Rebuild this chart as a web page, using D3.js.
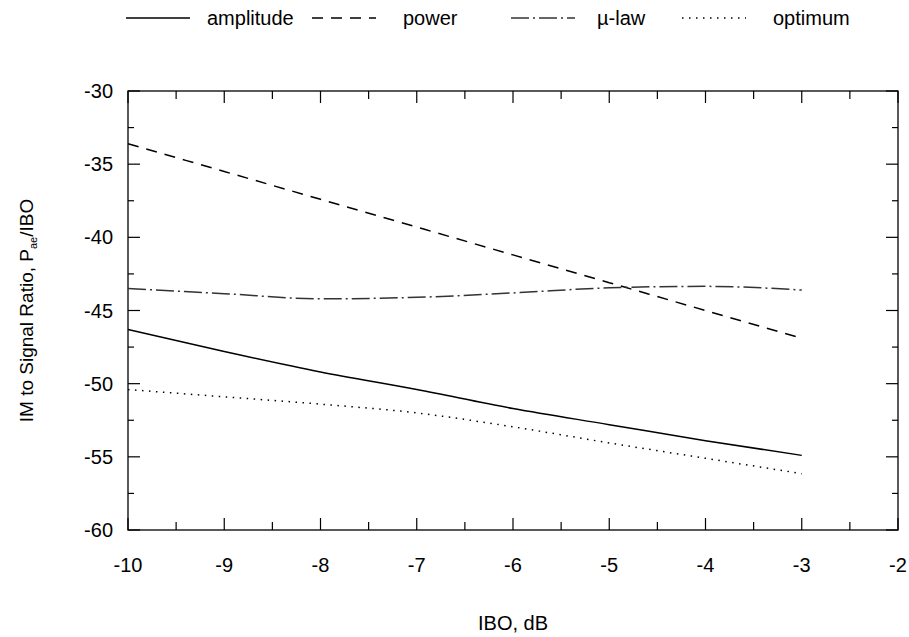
<!DOCTYPE html>
<html>
<head>
<meta charset="utf-8">
<script src="https://cdn.jsdelivr.net/npm/d3@7"></script>
<style>
  body { margin: 0; background: #fff; }
  text { font-family: "Liberation Sans", Arial, sans-serif; fill: #000; }
</style>
</head>
<body>
<svg id="chart" width="909" height="637"></svg>
<script>
// IBO values (dB)
const ibo = [-10, -9, -8, -7, -6, -5, -4, -3];

// IM to signal ratio for each scheme
const amplitude = [-46.3, -47.8, -49.2, -50.4, -51.7, -52.8, -53.9, -54.9];
const power = [-33.6, -35.5, -37.4, -39.3, -41.2, -43.1, -45.0, -46.9];
const muLaw = [-43.5, -43.85, -44.2, -44.1, -43.8, -43.45, -43.35, -43.6];
const optimum = [-50.4, -50.9, -51.4, -52.0, -52.95, -54.05, -55.1, -56.15];

const xTicks = [-10, -9, -8, -7, -6, -5, -4, -3, -2];
const yTicks = [-30, -35, -40, -45, -50, -55, -60];

const series = [
    { name: "amplitude", values: amplitude, dash: null, color: "#000" },
    { name: "power", values: power, dash: "11,8", color: "#000" },
    { name: "\u00b5-law", values: muLaw, dash: "18,4,2,4", color: "#333" },
    { name: "optimum", values: optimum, dash: "1.5,5.5", color: "#000" }
];

const margin = { top: 91, right: 11, bottom: 107, left: 128 };
const width = 909 - margin.left - margin.right,
      height = 637 - margin.top - margin.bottom;

const svg = d3.select("#chart");
const g = svg.append("g").attr("transform", `translate(${margin.left},${margin.top})`);

const x = d3.scaleLinear().domain([-10, -2]).range([0, width]);
const y = d3.scaleLinear().domain([-60, -30]).range([height, 0]);

// frame
g.append("rect")
    .attr("width", width)
    .attr("height", height)
    .attr("fill", "none")
    .attr("stroke", "#000")
    .attr("stroke-width", 1.3);

// ticks on all four sides, pointing in
const xMinor = d3.range(-9.5, -2, 1);
const yMinor = d3.range(-57.5, -30, 5);

function tickLines(vals, len, horizontal) {
    vals.forEach(v => {
        if (horizontal) {
            g.append("line").attr("x1", x(v)).attr("x2", x(v)).attr("y1", height).attr("y2", height - len)
                .attr("stroke", "#000").attr("stroke-width", 1.2);
            g.append("line").attr("x1", x(v)).attr("x2", x(v)).attr("y1", 0).attr("y2", len)
                .attr("stroke", "#000").attr("stroke-width", 1.2);
        } else {
            g.append("line").attr("x1", 0).attr("x2", len).attr("y1", y(v)).attr("y2", y(v))
                .attr("stroke", "#000").attr("stroke-width", 1.2);
            g.append("line").attr("x1", width).attr("x2", width - len).attr("y1", y(v)).attr("y2", y(v))
                .attr("stroke", "#000").attr("stroke-width", 1.2);
        }
    });
}
tickLines(xTicks, 12, true);
tickLines(xMinor, 8, true);
tickLines(yTicks, 12, false);
tickLines(yMinor, 6, false);

// tick labels
g.selectAll(".xlab")
    .data(xTicks)
    .enter()
    .append("text")
    .attr("x", d => x(d))
    .attr("y", height + 42)
    .attr("text-anchor", "middle")
    .attr("font-size", "20px")
    .text(d => d);

g.selectAll(".ylab")
    .data(yTicks)
    .enter()
    .append("text")
    .attr("x", -15)
    .attr("y", d => y(d))
    .attr("dy", "0.35em")
    .attr("text-anchor", "end")
    .attr("font-size", "20px")
    .text(d => d);

// axis titles
svg.append("text")
    .attr("x", margin.left + width / 2)
    .attr("y", 630)
    .attr("text-anchor", "middle")
    .attr("font-size", "20px")
    .text("IBO, dB");

const yt = svg.append("text")
    .attr("transform", `translate(33,${margin.top + height / 2}) rotate(-90)`)
    .attr("text-anchor", "middle")
    .attr("font-size", "19px");
yt.append("tspan").text("IM to Signal Ratio, P");
yt.append("tspan").attr("font-size", "11px").attr("dy", "4").text("ae");
yt.append("tspan").attr("dy", "-4").text("/IBO");

// lines
const line = d3.line()
    .x((d, i) => x(ibo[i]))
    .y(d => y(d))
    .curve(d3.curveMonotoneX);

series.forEach(s => {
    g.append("path")
        .datum(s.values)
        .attr("fill", "none")
        .attr("stroke", s.color)
        .attr("stroke-width", 1.5)
        .attr("stroke-dasharray", s.dash)
        .attr("d", line);
});

// legend
const legendLine = [126, 312, 511, 682];
const legendText = [207, 403, 597, 773];
const legend = svg.append("g");
series.forEach((s, i) => {
    legend.append("line")
        .attr("x1", legendLine[i])
        .attr("x2", legendLine[i] + 64)
        .attr("y1", 18)
        .attr("y2", 18)
        .attr("stroke", s.color)
        .attr("stroke-width", 1.5)
        .attr("stroke-dasharray", s.dash);
    legend.append("text")
        .attr("x", legendText[i])
        .attr("y", 18)
        .attr("dy", "0.35em")
        .attr("font-size", "20px")
        .text(s.name);
});
</script>
</body>
</html>
